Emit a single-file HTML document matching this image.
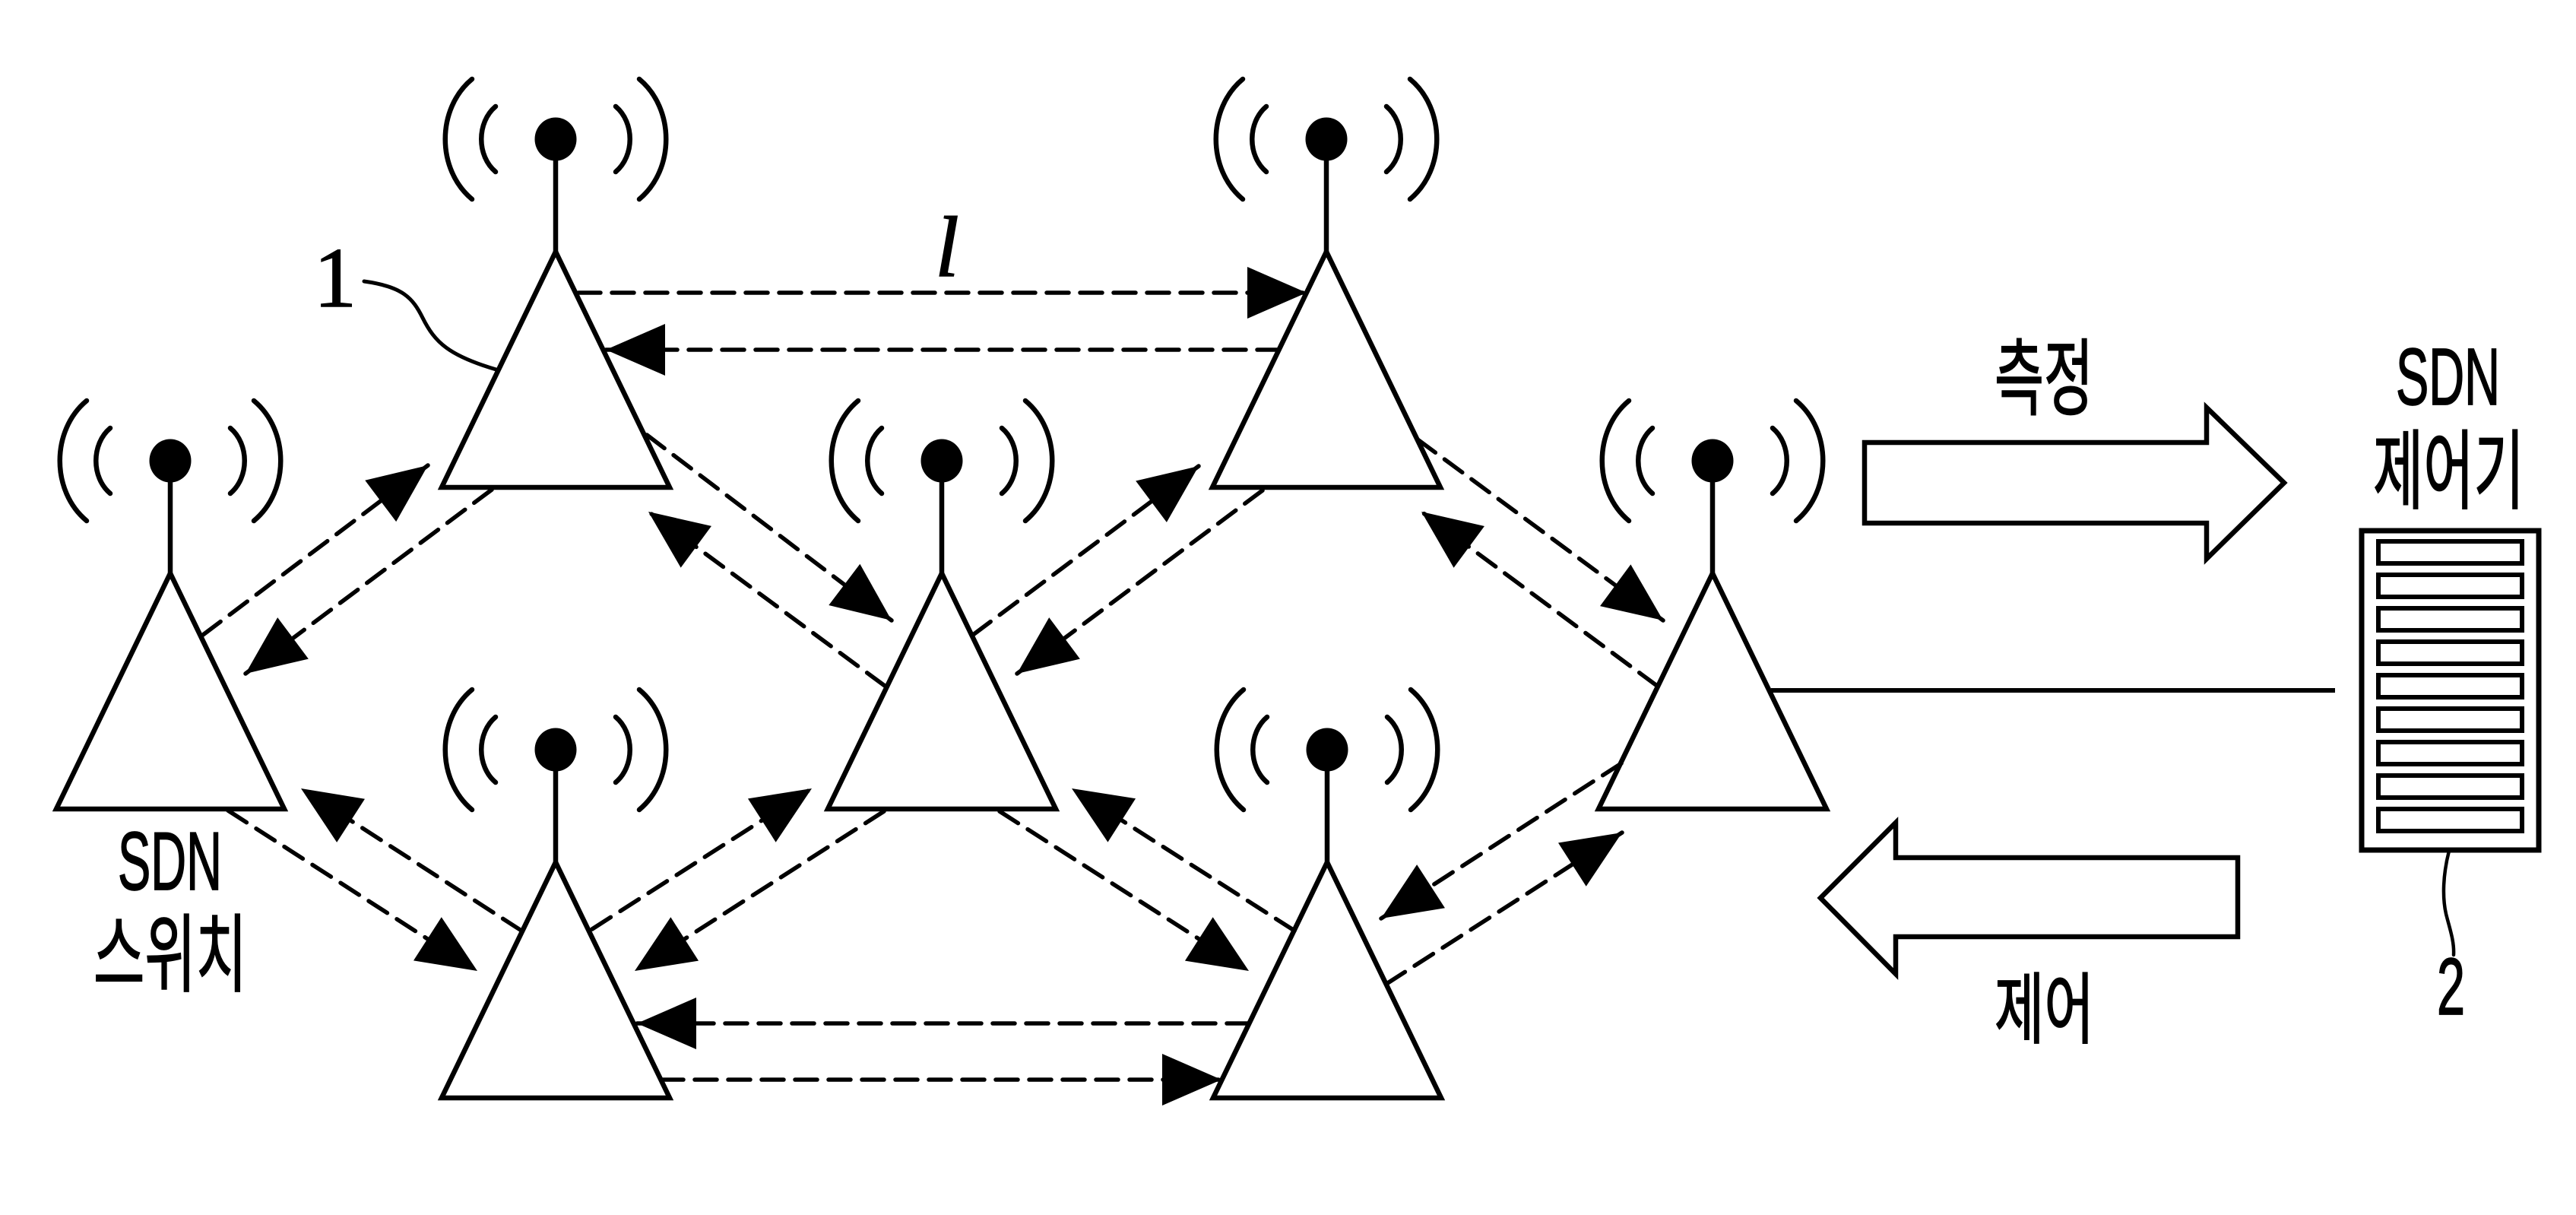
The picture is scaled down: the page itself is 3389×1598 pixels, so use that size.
<!DOCTYPE html>
<html>
<head>
<meta charset="utf-8">
<style>
  html, body { margin: 0; padding: 0; background: #fff; }
  svg { display: block; }
  .k { font-family: "Liberation Sans", "Noto Sans CJK KR", sans-serif; fill: #000; stroke: #000; stroke-width: 1.8; }
</style>
</head>
<body>
<svg width="3389" height="1598" viewBox="0 0 3389 1598" xmlns="http://www.w3.org/2000/svg">
  <defs>
    <marker id="ah" markerUnits="userSpaceOnUse" markerWidth="80" markerHeight="70" refX="78" refY="34" orient="auto" overflow="visible">
      <path d="M0,0 L78,34 L0,68 Z" fill="#000"/>
    </marker>
    <g id="tw" fill="none" stroke="#000" stroke-width="6.5" stroke-linecap="round">
      <ellipse cx="0" cy="0" rx="27.5" ry="28.5" fill="#000" stroke="none"/>
      <line x1="0" y1="20" x2="0" y2="148" stroke-linecap="butt"/>
      <path d="M0,148 L-150,458 L150,458 Z" stroke-linejoin="miter"/>
      <path d="M-110,-79 C-157,-40 -157,40 -110,79"/>
      <path d="M110,-79 C157,-40 157,40 110,79"/>
      <path d="M-79,-43 C-104,-22 -104,22 -79,43"/>
      <path d="M79,-43 C104,-22 104,22 79,43"/>
    </g>
  </defs>

  <rect width="3389" height="1598" fill="#fff"/>

  <!-- towers -->
  <use href="#tw" x="731" y="183"/>
  <use href="#tw" x="1745" y="183"/>
  <use href="#tw" x="224" y="606"/>
  <use href="#tw" x="1239" y="606"/>
  <use href="#tw" x="2253" y="606"/>
  <use href="#tw" x="731" y="986"/>
  <use href="#tw" x="1746" y="986"/>

  <!-- dashed links -->
  <g fill="none" stroke="#000" stroke-width="5.5" stroke-dasharray="29 15" stroke-linecap="round" marker-end="url(#ah)">
    <line x1="761" y1="385" x2="1719" y2="385"/>
    <line x1="1683" y1="460" x2="797" y2="460"/>
    <line x1="267" y1="835" x2="563" y2="612"/>
    <line x1="647" y1="644" x2="323" y2="886"/>
    <line x1="851" y1="572" x2="1173" y2="816"/>
    <line x1="1164" y1="902" x2="853" y2="673"/>
    <line x1="1280" y1="835" x2="1577" y2="613"/>
    <line x1="1661" y1="645" x2="1338" y2="886"/>
    <line x1="1865" y1="578" x2="2188" y2="816"/>
    <line x1="2180" y1="902" x2="1870" y2="673"/>
    <line x1="300" y1="1066" x2="628" y2="1277"/>
    <line x1="686" y1="1224" x2="396" y2="1037"/>
    <line x1="779" y1="1222" x2="1068" y2="1037"/>
    <line x1="1163" y1="1067" x2="835" y2="1277"/>
    <line x1="1315" y1="1067" x2="1643" y2="1277"/>
    <line x1="1703" y1="1224" x2="1410" y2="1037"/>
    <line x1="2133" y1="1004" x2="1817" y2="1208"/>
    <line x1="1824" y1="1294" x2="2134" y2="1095"/>
    <line x1="1643" y1="1346" x2="838" y2="1346"/>
    <line x1="870" y1="1420" x2="1607" y2="1420"/>
  </g>

  <!-- leader for 1 -->
  <path d="M479,370 C530,377 543,392 556,418 C572,450 590,468 656,487" fill="none" stroke="#000" stroke-width="5" stroke-linecap="round"/>
  <text x="441" y="403" text-anchor="middle" font-family="'Liberation Serif', serif" font-size="112" stroke="#000" stroke-width="1.5">1</text>

  <!-- l label -->
  <text x="1246" y="363" text-anchor="middle" font-family="'Liberation Serif', serif" font-style="italic" font-size="113" stroke="#000" stroke-width="1.5">l</text>

  <!-- SDN switch label -->
  <text class="k" x="155" y="1170" font-size="109" textLength="137" lengthAdjust="spacingAndGlyphs">SDN</text>
  <text class="k" x="123" y="1295" font-size="112" textLength="202" lengthAdjust="spacingAndGlyphs">스위치</text>

  <!-- line to controller -->
  <line x1="2330" y1="908" x2="3072" y2="908" stroke="#000" stroke-width="6"/>

  <!-- measurement arrow -->
  <polygon points="2453,582 2903,582 2903,536 3005,635 2903,735 2903,688 2453,688" fill="none" stroke="#000" stroke-width="6.5" stroke-linejoin="miter"/>
  <text class="k" x="2624" y="537" font-size="110" textLength="130" lengthAdjust="spacingAndGlyphs">측정</text>

  <!-- control arrow -->
  <polygon points="2944,1128 2494,1128 2494,1082 2395,1181 2494,1281 2494,1232 2944,1232" fill="none" stroke="#000" stroke-width="6.5" stroke-linejoin="miter"/>
  <text class="k" x="2624" y="1364" font-size="102" textLength="131" lengthAdjust="spacingAndGlyphs">제어</text>

  <!-- controller -->
  <text class="k" x="3152" y="532" font-size="106" textLength="137" lengthAdjust="spacingAndGlyphs">SDN</text>
  <text class="k" x="3122" y="660" font-size="114" textLength="199" lengthAdjust="spacingAndGlyphs">제어기</text>
  <g fill="none" stroke="#000">
    <rect x="3107" y="698" width="233" height="420" stroke-width="7"/>
    <g stroke-width="6">
      <rect x="3129" y="712" width="189" height="29"/>
      <rect x="3129" y="756" width="189" height="29"/>
      <rect x="3129" y="800" width="189" height="29"/>
      <rect x="3129" y="844" width="189" height="29"/>
      <rect x="3129" y="888" width="189" height="29"/>
      <rect x="3129" y="932" width="189" height="29"/>
      <rect x="3129" y="976" width="189" height="29"/>
      <rect x="3129" y="1020" width="189" height="29"/>
      <rect x="3129" y="1064" width="189" height="29"/>
    </g>
  </g>
  <path d="M3222,1119 C3214,1150 3213,1180 3218,1202 C3223,1222 3229,1238 3228,1256" fill="none" stroke="#000" stroke-width="4.5" stroke-linecap="round"/>
  <text class="k" x="3206" y="1334" font-size="106" textLength="37" lengthAdjust="spacingAndGlyphs">2</text>
</svg>
</body>
</html>
